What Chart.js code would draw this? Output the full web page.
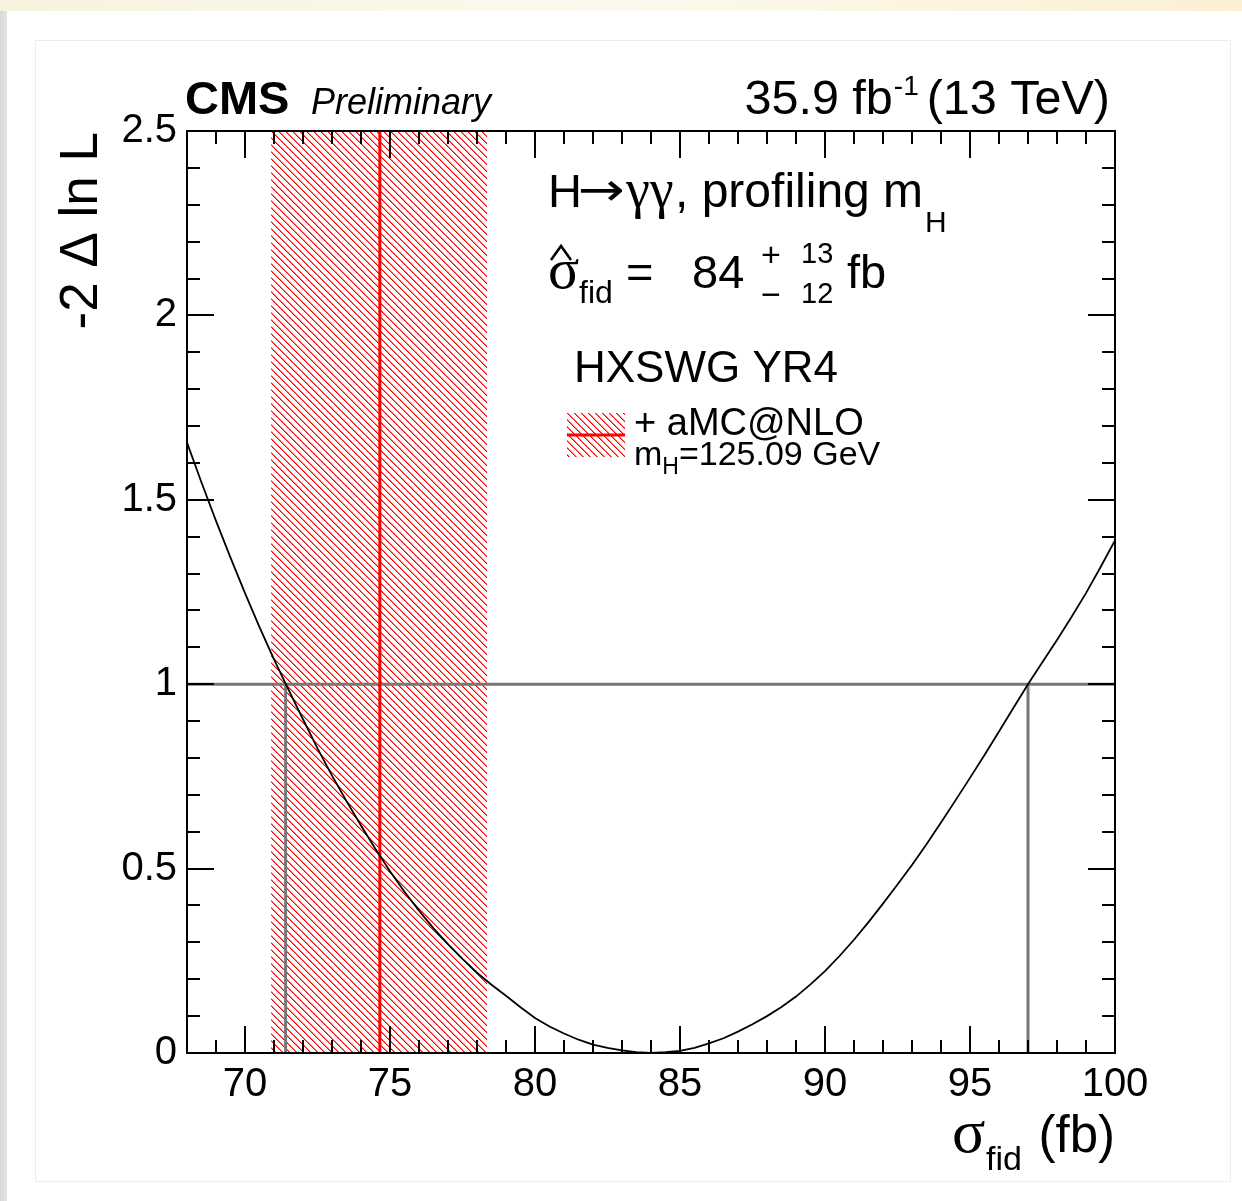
<!DOCTYPE html>
<html>
<head>
<meta charset="utf-8">
<script src="https://cdn.jsdelivr.net/npm/chart.js@4.4.1/dist/chart.umd.min.js"></script>
<style>
html,body{margin:0;padding:0;background:#fff;}
body{width:1242px;height:1201px;position:relative;overflow:hidden;}
#topbar{position:absolute;left:0;top:0;width:1242px;height:11px;background:linear-gradient(to right,#f8f3df,#fcf9ee 50%,#fbf0d3);}
#leftbar{position:absolute;left:0;top:11px;width:7px;height:1190px;background:linear-gradient(to right,#d6d9d4,#e3e5e1);}
#frame{position:absolute;left:35px;top:40px;width:1196px;height:1142px;border:1px solid #ededed;box-sizing:border-box;}
#c{position:absolute;left:0;top:0;}
</style>
</head>
<body>
<div id="topbar"></div>
<div id="leftbar"></div>
<div id="frame"></div>
<canvas id="c" width="1242" height="1201"></canvas>
<script>
// ---- data ----
const sigmaFid = [68, 68.5, 69, 69.5, 70, 70.5, 71, 71.5, 72, 72.5, 73, 73.5, 74, 74.5, 75, 75.5, 76, 76.5, 77, 77.5, 78, 78.5, 79, 79.5, 80, 80.5, 81, 81.5, 82, 82.5, 83, 83.5, 84, 84.5, 85, 85.5, 86, 86.5, 87, 87.5, 88, 88.5, 89, 89.5, 90, 90.5, 91, 91.5, 92, 92.5, 93, 93.5, 94, 94.5, 95, 95.5, 96, 96.5, 97, 97.5, 98, 98.5, 99, 99.5, 100];
const deltaNLL = [1.655, 1.547, 1.443, 1.343, 1.247, 1.155, 1.067, 0.985, 0.905, 0.826, 0.752, 0.683, 0.617, 0.553, 0.493, 0.437, 0.386, 0.338, 0.295, 0.255, 0.218, 0.185, 0.155, 0.124, 0.095, 0.072, 0.053, 0.036, 0.023, 0.014, 0.007, 0.002, 0.0, 0.002, 0.006, 0.014, 0.026, 0.04, 0.058, 0.078, 0.10, 0.125, 0.153, 0.186, 0.222, 0.263, 0.307, 0.355, 0.405, 0.457, 0.51, 0.566, 0.625, 0.685, 0.746, 0.808, 0.872, 0.936, 1.0, 1.06, 1.12, 1.182, 1.247, 1.317, 1.39];
const theoryBand = [70.9, 78.35];
const theoryCentral = [74.65];
const oneSigmaLevel = [1];
const oneSigmaCross = [71.4, 97.0];
const xRange = [68, 100];
const yRange = [0, 2.5];
const xTickLabels = [70, 75, 80, 85, 90, 95, 100];
const yTickLabels = [0, 0.5, 1, 1.5, 2, 2.5];
const xMinorStep = 1, xMajorStep = 5;
const yMinorStep = 0.1, yMajorStep = 0.5;

const SANS = '"Liberation Sans", Arial, Helvetica, sans-serif';
const SERIF = '"Liberation Serif", "Times New Roman", serif';

const cv = document.getElementById('c');
const ctx0 = cv.getContext('2d');

function makeHatch(c) {
  const n = 7;
  const p = document.createElement('canvas');
  p.width = n; p.height = n;
  const g = p.getContext('2d');
  for (let i = 0; i < n; i++) {
    g.fillStyle = '#ff0000';
    g.fillRect(i, i, 1, 1);
    g.fillStyle = 'rgba(255,0,0,0.55)';
    g.fillRect((i + 1) % n, i, 1, 1);
  }
  return c.createPattern(p, 'repeat');
}
const hatch = makeHatch(ctx0);

const curve = sigmaFid.map((x, i) => ({x, y: deltaNLL[i]}));

const decorPlugin = {
  id: 'decor',
  afterDraw(chart) {
    const ctx = chart.ctx;
    const xs = chart.scales.x, ys = chart.scales.y;
    const a = chart.chartArea;
    ctx.save();
    // ticks
    ctx.strokeStyle = '#000';
    ctx.lineWidth = 2;
    ctx.beginPath();
    const nx = Math.round((xRange[1] - xRange[0]) / xMinorStep);
    for (let i = 0; i <= nx; i++) {
      const v = xRange[0] + i * xMinorStep;
      const px = Math.round(xs.getPixelForValue(v));
      const len = (Math.abs(v / xMajorStep - Math.round(v / xMajorStep)) < 1e-6) ? 27 : 13;
      ctx.moveTo(px, a.bottom); ctx.lineTo(px, a.bottom - len);
      ctx.moveTo(px, a.top); ctx.lineTo(px, a.top + len);
    }
    const ny = Math.round((yRange[1] - yRange[0]) / yMinorStep);
    for (let i = 0; i <= ny; i++) {
      const v = yRange[0] + i * yMinorStep;
      const py = Math.round(ys.getPixelForValue(v));
      const len = (Math.abs(v / yMajorStep - Math.round(v / yMajorStep)) < 1e-6) ? 27 : 13;
      ctx.moveTo(a.left, py); ctx.lineTo(a.left + len, py);
      ctx.moveTo(a.right, py); ctx.lineTo(a.right - len, py);
    }
    ctx.stroke();
    // frame
    ctx.strokeRect(a.left, a.top, a.right - a.left, a.bottom - a.top);

    ctx.fillStyle = '#000';
    ctx.textBaseline = 'alphabetic';
    function t(s, x, y, font, align) {
      ctx.font = font; ctx.textAlign = align || 'left';
      ctx.fillText(s, x, y);
      return ctx.measureText(s).width;
    }
    // header
    t('CMS', 185, 114, 'bold 47px ' + SANS);
    t('Preliminary', 311, 114, 'italic 36px ' + SANS);
    let w = t('(13 TeV)', 1110, 114, '48.5px ' + SANS, 'right');
    let w2 = t('-1', 1110 - w - 8, 95, '28px ' + SANS, 'right');
    t('35.9 fb', 1110 - w - 8 - w2 - 1, 114, '48.5px ' + SANS, 'right');

    // y title
    ctx.save();
    ctx.translate(97, 132);
    ctx.rotate(-Math.PI / 2);
    t('-2 \u0394 ln L', 0, 0, '53px ' + SANS, 'right');
    ctx.restore();

    // x title
    t('\u03C3', 952, 1152, '62px ' + SERIF);
    t('fid', 986, 1170, '34px ' + SANS);
    t('(fb)', 1115, 1152, '51px ' + SANS, 'right');

    // physics label
    t('H', 548, 207, '47px ' + SANS);
    ctx.save();
    ctx.font = '46px "DejaVu Sans", ' + SANS;
    const aw = ctx.measureText('\u2192').width;
    ctx.translate(578, 205);
    ctx.scale(47 / aw, 1);
    ctx.textAlign = 'left';
    ctx.fillText('\u2192', 0, 0);
    ctx.restore();
    t('\u03B3\u03B3', 626, 207, '54px ' + SERIF);
    let wp = t(', profiling m', 675, 207, '48px ' + SANS);
    t('H', 675 + wp + 2, 232, '30px ' + SANS);

    // sigma hat
    t('\u03C3', 548, 288, '58px ' + SERIF);
    ctx.lineWidth = 2.5;
    ctx.beginPath();
    ctx.moveTo(551, 260); ctx.lineTo(561, 246); ctx.lineTo(571, 260);
    ctx.stroke();
    t('fid', 579, 303, '32px ' + SANS);
    t('=', 626, 288, '47px ' + SANS);
    t('84', 692, 288, '47px ' + SANS);
    t('+', 761, 266, '34px ' + SANS);
    t('13', 801, 263, '29px ' + SANS);
    t('\u2212', 761, 306, '34px ' + SANS);
    t('12', 801, 303, '29px ' + SANS);
    t('fb', 847, 288, '47px ' + SANS);

    t('HXSWG YR4', 574, 382, '44px ' + SANS);

    // legend entry
    ctx.fillStyle = hatch;
    ctx.fillRect(567, 413, 58, 44);
    ctx.strokeStyle = '#ff0000';
    ctx.lineWidth = 3;
    ctx.beginPath(); ctx.moveTo(567, 435); ctx.lineTo(625, 435); ctx.stroke();
    ctx.fillStyle = '#000';
    t('+ aMC@NLO', 634, 435, '38px ' + SANS);
    let wm = t('m', 634, 465, '34px ' + SANS);
    let wh = t('H', 634 + wm, 474, '23px ' + SANS);
    t('=125.09 GeV', 634 + wm + wh, 465, '34px ' + SANS);
    ctx.restore();
  }
};

new Chart(ctx0, {
  type: 'line',
  data: {
    datasets: [
      {
        label: 'scan', data: curve, borderColor: '#000', borderWidth: 1.8,
        pointRadius: 0, tension: 0, fill: false, order: 1
      },
      {
        label: 'theory', data: [{x: theoryCentral[0], y: yRange[0]}, {x: theoryCentral[0], y: yRange[1]}],
        borderColor: '#ff0000', borderWidth: 3, pointRadius: 0, fill: false, order: 2
      },
      {
        label: 'level', data: [{x: xRange[0], y: oneSigmaLevel[0]}, {x: xRange[1], y: oneSigmaLevel[0]}],
        borderColor: '#777777', borderWidth: 3, pointRadius: 0, fill: false, order: 3
      },
      {
        label: 'lo', data: [{x: oneSigmaCross[0], y: yRange[0]}, {x: oneSigmaCross[0], y: oneSigmaLevel[0]}],
        borderColor: '#777777', borderWidth: 3, pointRadius: 0, fill: false, order: 3
      },
      {
        label: 'hi', data: [{x: oneSigmaCross[1], y: yRange[0]}, {x: oneSigmaCross[1], y: oneSigmaLevel[0]}],
        borderColor: '#777777', borderWidth: 3, pointRadius: 0, fill: false, order: 3
      },
      {
        label: 'band', data: [{x: theoryBand[0], y: yRange[1]}, {x: theoryBand[1], y: yRange[1]}],
        borderWidth: 0, borderColor: 'rgba(0,0,0,0)', backgroundColor: hatch,
        pointRadius: 0, fill: 'origin', order: 5
      }
    ]
  },
  options: {
    responsive: false, animation: false, devicePixelRatio: 1,
    layout: {padding: {left: 0, top: 131, right: 127, bottom: 0}},
    plugins: {legend: {display: false}, tooltip: {enabled: false}},
    scales: {
      x: {
        type: 'linear', min: xRange[0], max: xRange[1],
        afterBuildTicks: s => { s.ticks = xTickLabels.map(v => ({value: v})); },
        afterFit: s => { s.height = 148; },
        grid: {display: false, drawTicks: false}, border: {display: false},
        ticks: {font: {family: SANS, size: 40}, color: '#000', padding: 8, maxRotation: 0, autoSkip: false, callback: v => String(v)}
      },
      y: {
        type: 'linear', min: yRange[0], max: yRange[1],
        afterBuildTicks: s => { s.ticks = yTickLabels.map(v => ({value: v})); },
        afterFit: s => { s.width = 187; },
        grid: {display: false, drawTicks: false}, border: {display: false},
        ticks: {font: {family: SANS, size: 40}, color: '#000', padding: 10, autoSkip: false, callback: v => String(v)}
      }
    }
  },
  plugins: [decorPlugin]
});
</script>
</body>
</html>
